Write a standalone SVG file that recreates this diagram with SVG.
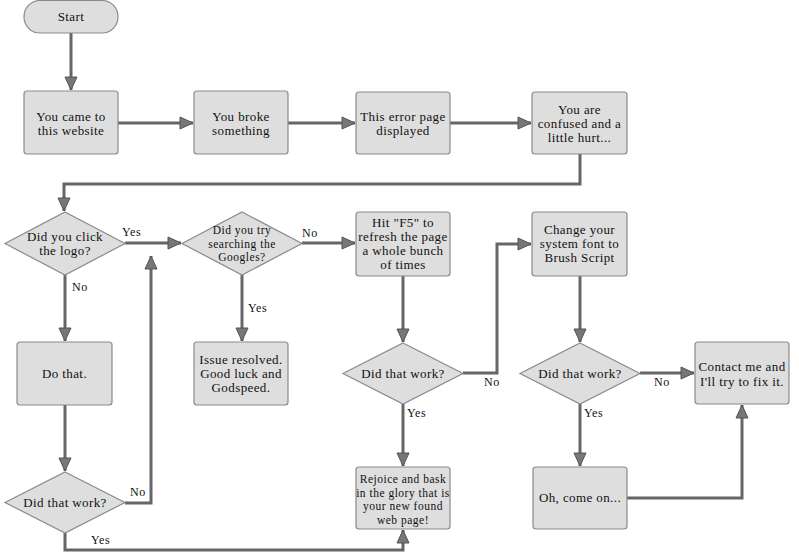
<svg xmlns="http://www.w3.org/2000/svg" width="799" height="552" viewBox="0 0 799 552">
<style>
.n{fill:#dedede;stroke:#8a8a8a;stroke-width:1.2}
.t{font-family:"Liberation Serif","DejaVu Serif",serif;font-size:13px;fill:#111;text-anchor:middle;letter-spacing:0.4px}
.s{font-size:11.5px;letter-spacing:0.5px}
.l{font-family:"Liberation Serif","DejaVu Serif",serif;font-size:12px;fill:#111;letter-spacing:0.6px}
.c{fill:none;stroke:#666;stroke-width:3}
</style>
<defs>
<marker id="ah" markerUnits="userSpaceOnUse" markerWidth="16" markerHeight="14" refX="14" refY="7" orient="auto">
<path d="M1,1 L14,7 L1,13 Z" fill="#777" stroke="#555" stroke-width="1"/>
</marker>
</defs>
<rect width="799" height="552" fill="#fff"/>
<g id="connectors">
<path class="c" d="M71,33 V90" marker-end="url(#ah)"/>
<path class="c" d="M118,123 H193" marker-end="url(#ah)"/>
<path class="c" d="M288,123 H355" marker-end="url(#ah)"/>
<path class="c" d="M450,123 H531" marker-end="url(#ah)"/>
<path class="c" d="M580,154 V184 H64 V211" marker-end="url(#ah)"/>
<path class="c" d="M125,243 H181" marker-end="url(#ah)"/>
<path class="c" d="M302,243 H355" marker-end="url(#ah)"/>
<path class="c" d="M65,275 V341" marker-end="url(#ah)"/>
<path class="c" d="M242,275 V341" marker-end="url(#ah)"/>
<path class="c" d="M65,405 V471" marker-end="url(#ah)"/>
<path class="c" d="M125,503 H151 V256" marker-end="url(#ah)"/>
<path class="c" d="M65,533 V550 H403 V530" marker-end="url(#ah)"/>
<path class="c" d="M403,276 V342" marker-end="url(#ah)"/>
<path class="c" d="M463,373 H497 V244 H531" marker-end="url(#ah)"/>
<path class="c" d="M403,404 V466" marker-end="url(#ah)"/>
<path class="c" d="M580,276 V342" marker-end="url(#ah)"/>
<path class="c" d="M640,373 H694" marker-end="url(#ah)"/>
<path class="c" d="M580,404 V466" marker-end="url(#ah)"/>
<path class="c" d="M627,498 H742 V405" marker-end="url(#ah)"/>
</g>
<g id="labels">
<text class="l" x="122" y="236">Yes</text>
<text class="l" x="302" y="237">No</text>
<text class="l" x="72" y="291">No</text>
<text class="l" x="248" y="312">Yes</text>
<text class="l" x="130" y="496">No</text>
<text class="l" x="91" y="544">Yes</text>
<text class="l" x="484" y="386">No</text>
<text class="l" x="407" y="417">Yes</text>
<text class="l" x="654" y="386">No</text>
<text class="l" x="584" y="417">Yes</text>
</g>
<g id="start">
<rect class="n" x="24" y="0.5" width="94" height="32.5" rx="16" ry="16"/>
<text class="t" x="71" y="21">Start</text>
</g>
<g id="came">
<rect class="n" x="24" y="91" width="94" height="63" rx="3"/>
<text class="t" x="71" y="121">You came to</text>
<text class="t" x="71" y="135">this website</text>
</g>
<g id="broke">
<rect class="n" x="194" y="91" width="94" height="63" rx="3"/>
<text class="t" x="241" y="121">You broke</text>
<text class="t" x="241" y="135">something</text>
</g>
<g id="errorpage">
<rect class="n" x="356" y="92" width="94" height="62" rx="3"/>
<text class="t" x="403" y="121">This error page</text>
<text class="t" x="403" y="135">displayed</text>
</g>
<g id="confused">
<rect class="n" x="532" y="92" width="95" height="62" rx="3"/>
<text class="t" x="579.5" y="114">You are</text>
<text class="t" x="579.5" y="128">confused and a</text>
<text class="t" x="579.5" y="142">little hurt...</text>
</g>
<g id="logo">
<path class="n" d="M65,212 L125,243.5 L65,275 L5,243.5 Z"/>
<text class="t" x="65" y="241">Did you click</text>
<text class="t" x="65" y="255">the logo?</text>
</g>
<g id="googles">
<path class="n" d="M242,212 L302,243.5 L242,275 L182,243.5 Z"/>
<text class="t s" x="242" y="234">Did you try</text>
<text class="t s" x="242" y="247.5">searching the</text>
<text class="t s" x="242" y="261">Googles?</text>
</g>
<g id="f5">
<rect class="n" x="356" y="212" width="94" height="64" rx="3"/>
<text class="t" x="403" y="227">Hit "F5" to</text>
<text class="t" x="403" y="241">refresh the page</text>
<text class="t" x="403" y="255">a whole bunch</text>
<text class="t" x="403" y="269">of times</text>
</g>
<g id="brush">
<rect class="n" x="532" y="212" width="95" height="64" rx="3"/>
<text class="t" x="579.5" y="234">Change your</text>
<text class="t" x="579.5" y="248">system font to</text>
<text class="t" x="579.5" y="262">Brush Script</text>
</g>
<g id="dothat">
<rect class="n" x="17" y="342" width="95" height="63" rx="3"/>
<text class="t" x="64.5" y="378">Do that.</text>
</g>
<g id="resolved">
<rect class="n" x="194" y="342" width="94" height="63" rx="3"/>
<text class="t" x="241" y="364">Issue resolved.</text>
<text class="t" x="241" y="378">Good luck and</text>
<text class="t" x="241" y="392">Godspeed.</text>
</g>
<g id="work3">
<path class="n" d="M403,343 L463,373.5 L403,404 L343,373.5 Z"/>
<text class="t" x="403" y="378">Did that work?</text>
</g>
<g id="work4">
<path class="n" d="M580,343 L640,373.5 L580,404 L520,373.5 Z"/>
<text class="t" x="580" y="378">Did that work?</text>
</g>
<g id="contact">
<rect class="n" x="695" y="342" width="94" height="62" rx="3"/>
<text class="t" x="742" y="371">Contact me and</text>
<text class="t" x="742" y="386">I'll try to fix it.</text>
</g>
<g id="work5">
<path class="n" d="M65,472 L125,502.5 L65,533 L5,502.5 Z"/>
<text class="t" x="65" y="507">Did that work?</text>
</g>
<g id="rejoice">
<rect class="n" x="356" y="467" width="94" height="62" rx="3"/>
<text class="t s" x="403" y="483">Rejoice and bask</text>
<text class="t s" x="403" y="496.5">in the glory that is</text>
<text class="t s" x="403" y="510">your new found</text>
<text class="t s" x="403" y="523.5">web page!</text>
</g>
<g id="comeon">
<rect class="n" x="533" y="467" width="94" height="62" rx="3"/>
<text class="t" x="580" y="502">Oh, come on...</text>
</g>
</svg>
